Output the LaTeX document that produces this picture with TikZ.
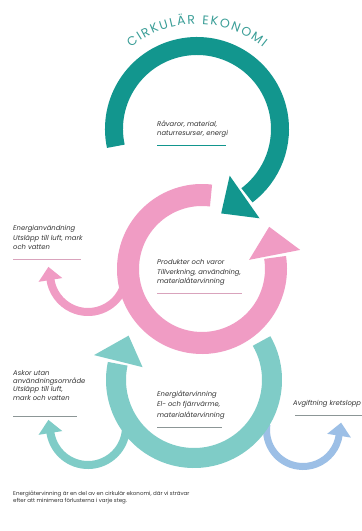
\documentclass[tikz,border=0pt]{standalone}
\usepackage{fontspec}
\setmainfont{Poppins}
\usetikzlibrary{calc,decorations.text}
\definecolor{ringteal}{HTML}{12968E}
\definecolor{titleteal}{HTML}{3A9E97}
\definecolor{ringpink}{HTML}{F09CC4}
\definecolor{ringmint}{HTML}{7FCCC7}
\definecolor{ringblue}{HTML}{9CBFE6}
\definecolor{txtgray}{HTML}{333333}
\definecolor{rulegray}{HTML}{8C9696}
\definecolor{rulepink}{HTML}{D9A3BC}
% #1 colour, #2 centre, #3 mid radius, #4 band width, #5 start angle,
% #6 band end angle, #7 head base angle, #8 tip direction, #9 head half width
\newcommand\myringarrow[9]{%
  \draw[#1, line width=#4] ($(#2)+(#5:#3)$) arc[start angle=#5, end angle=#6, radius=#3];
  \fill[#1] ($(#2)+(#7:#3)+(#7:#9)$) -- ($(#2)+(#7:#3)-(#7:#9)$)
     -- ($(#2)+(#7:#3)+(#8:1.1*#9)$) -- cycle;
}
\begin{document}
\begin{tikzpicture}[x=1pt,y=1pt,
  lbl/.style={anchor=base west, inner sep=0pt, align=left, text=txtgray,
    font=\fontsize{6.8}{9.5}\selectfont\itshape},
  rulebar/.style={line width=0.6pt}]
\useasboundingbox (0,0) rectangle (362,-531);
\fill[white] (0,0) rectangle (362,-531);

\coordinate (Ct) at (197,-129);
\coordinate (Cp) at (202,-269);
\coordinate (Cm) at (194,-380);
\coordinate (Cs1) at (88,-274);
\coordinate (Cs2) at (88,-427);
\coordinate (Cs3) at (303,-430);

% small side arcs (under the rings)
\myringarrow{ringpink}{Cs1}{38}{8pt}{-25}{-173}{-171}{99}{12}
\myringarrow{ringmint}{Cs2}{38}{8pt}{-5}{-173}{-171}{99}{12}
\myringarrow{ringblue}{Cs3}{36.5}{7pt}{172}{353}{351}{81}{12}

% main rings
\myringarrow{ringteal}{Ct}{83}{18pt}{192}{-53}{-55}{-145}{26}
\myringarrow{ringpink}{Cp}{74}{22pt}{83}{369}{371}{101}{26}
\myringarrow{ringmint}{Cm}{78}{20pt}{30}{-192}{-194}{68}{25}

% title on arc
\path[decorate, decoration={text along path, text align=fit to path,
  text={|\fontsize{12.5}{12.5}\selectfont\color{titleteal}|CIRKULÄR EKONOMI}}]
  ($(Ct)+(129:105)$) arc[start angle=129, end angle=51, radius=105];

% labels (anchor on the baseline of the last line)
\node[lbl] (raw) at (157,-135.5) {Råvaror, material,\\naturresurser, energi};
\draw[rulebar, ringteal] (157,-145) -- (226,-145);

\node[lbl] (prod) at (157,-283.5) {Produkter och varor\\Tillverkning, användning,\\materialåtervinning};
\draw[rulebar, rulepink] (157,-293) -- (242,-293);

\node[lbl] (use) at (13,-249.5) {Energianvändning\\Utsläpp till luft, mark\\och vatten};
\draw[rulebar, rulepink] (13,-259) -- (81,-259);

\node[lbl, font=\fontsize{6.8}{8.2}\selectfont\itshape] (ash) at (13,-400) {Askor utan\\användningsområde\\Utsläpp till luft,\\mark och vatten};
\draw[rulebar, rulegray] (13,-416) -- (77,-416);

\node[lbl, font=\fontsize{6.8}{10.2}\selectfont\itshape] (rec) at (157,-417) {Energiåtervinning\\El- och fjärrvärme,\\materialåtervinning};
\draw[rulebar, rulegray] (157,-427) -- (222,-427);

\node[lbl] (detox) at (293,-405.5) {Avgiftning kretslopp};
\draw[rulebar, rulegray] (295,-415) -- (362,-415);

\node[anchor=base west, inner sep=0pt, align=left, text=txtgray,
  font=\fontsize{5.5}{7.3}\selectfont] (foot) at (13,-502.3)
  {Energiåtervinning är en del av en cirkulär ekonomi, där vi strävar\\efter att minimera förlusterna i varje steg.};
\end{tikzpicture}
\end{document}
